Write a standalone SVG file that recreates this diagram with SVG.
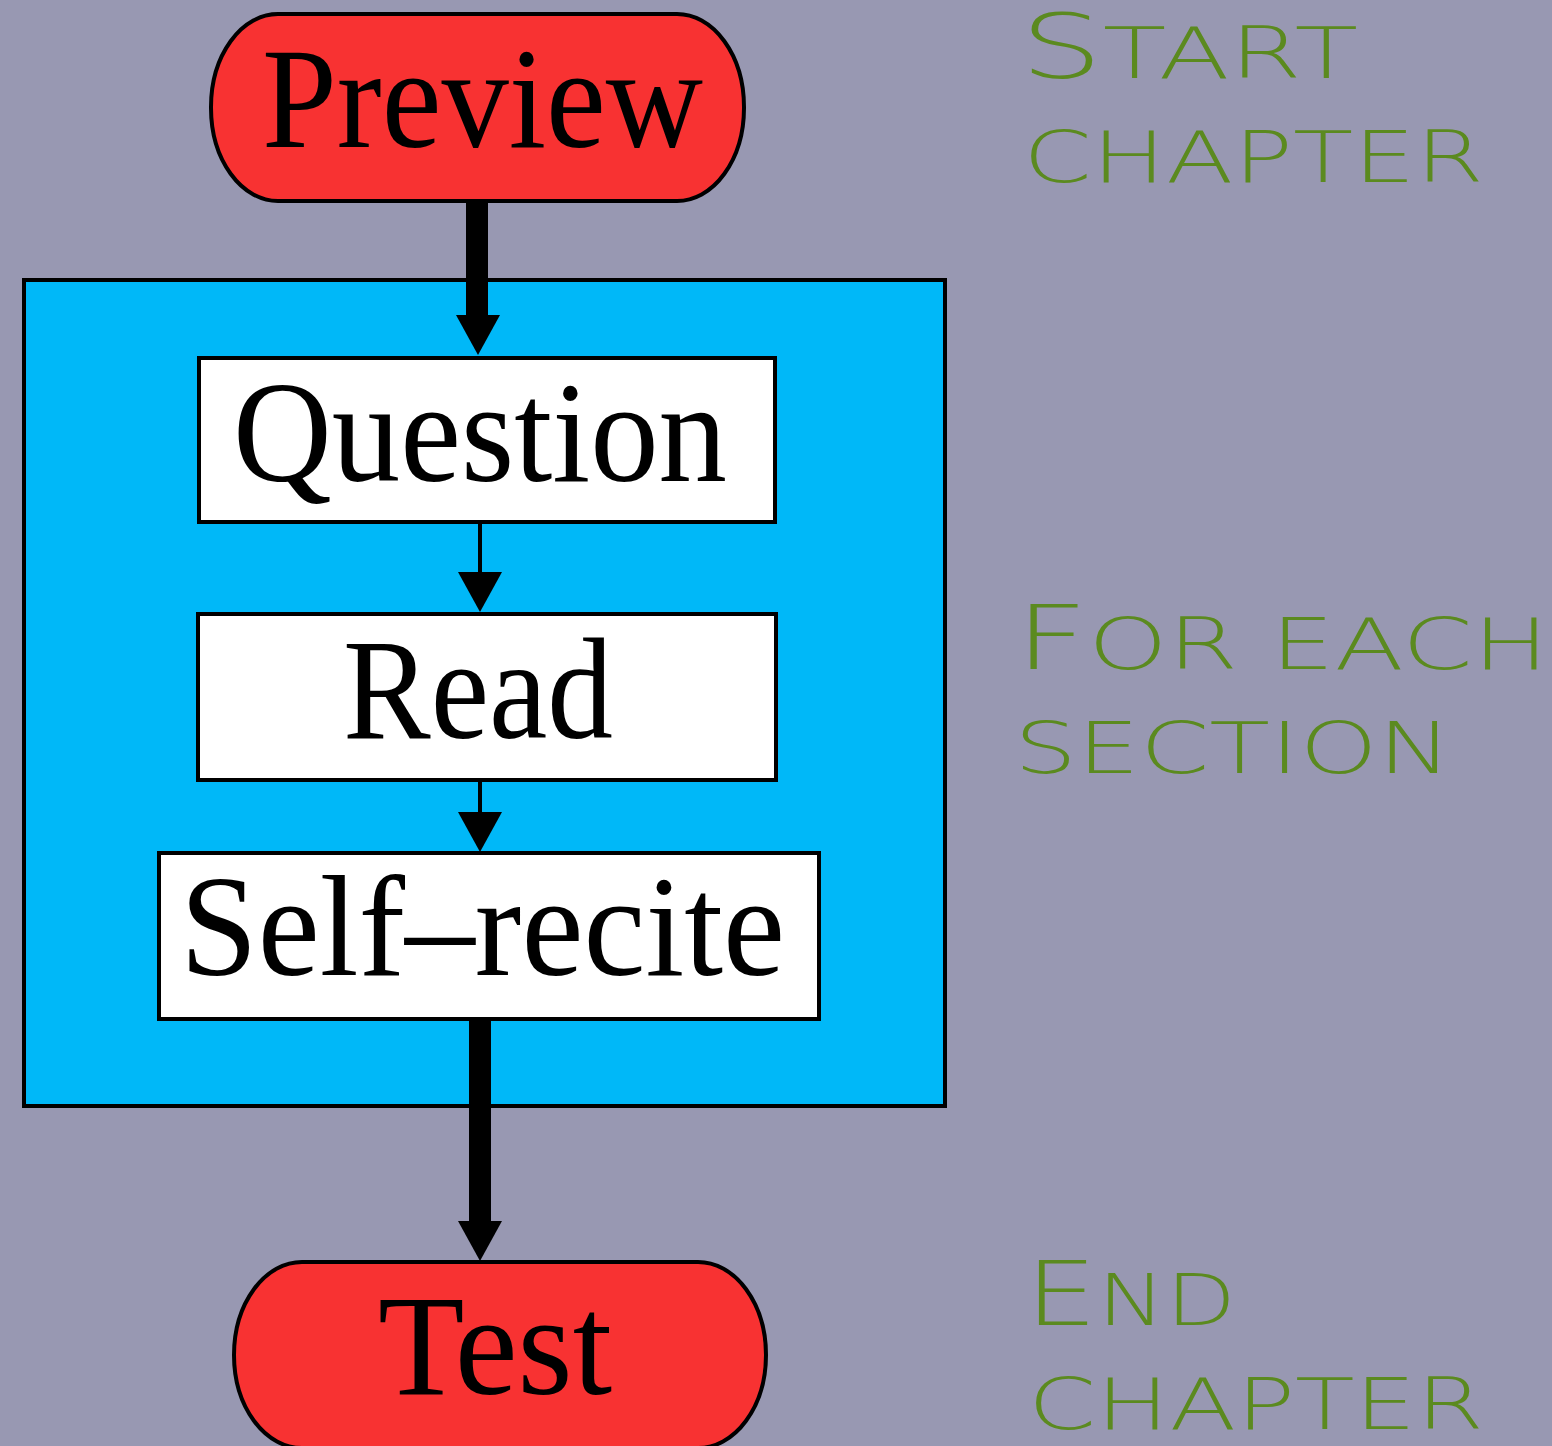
<svg xmlns="http://www.w3.org/2000/svg" xmlns:xlink="http://www.w3.org/1999/xlink" width="1552" height="1446" viewBox="0 0 1552 1446">
  <style>
    .bg { fill: #9898b2; }
    .pill { fill: #f83232; stroke: #000; stroke-width: 4; }
    .step { fill: #fff; stroke: #000; stroke-width: 4; }
    .loop { fill: #00b8f8; stroke: #000; stroke-width: 4; }
    .label { font-family: "Liberation Serif", "Times New Roman", serif; font-size: 143px; fill: #000; }
    .note { font-family: "DejaVu Sans", "Liberation Sans", sans-serif; font-weight: 200; fill: #5b8a1f; }
    .big { font-size: 89px; }
    .small { font-size: 71px; }
    .thick { stroke: #000; stroke-width: 22; fill: none; }
    .thin { stroke: #000; stroke-width: 4; fill: none; }
  </style>
  <defs>
    <!-- arrowhead with its tip at the origin, pointing down -->
    <path id="head" d="M-22,-40 L22,-40 L0,0 Z" fill="#000"/>
  </defs>

  <rect class="bg" x="0" y="0" width="1552" height="1446"/>

  <!-- repeated-section frame -->
  <g id="section-loop">
    <rect class="loop" x="24" y="280" width="921" height="826"/>
  </g>

  <g id="connectors">
    <g id="preview-to-question">
      <line class="thick" x1="477" y1="201" x2="477" y2="322"/>
      <use xlink:href="#head" x="478" y="355"/>
    </g>
    <g id="question-to-read">
      <line class="thin" x1="480" y1="524" x2="480" y2="590"/>
      <use xlink:href="#head" x="480" y="612"/>
    </g>
    <g id="read-to-selfrecite">
      <line class="thin" x1="480" y1="782" x2="480" y2="830"/>
      <use xlink:href="#head" x="480" y="852"/>
    </g>
    <g id="selfrecite-to-test">
      <line class="thick" x1="480" y1="1021" x2="480" y2="1232"/>
      <use xlink:href="#head" x="480" y="1261"/>
    </g>
  </g>

  <g id="preview">
    <rect class="pill" x="211" y="14" width="533" height="187" rx="67" ry="93"/>
    <text class="label" x="262" y="147" textLength="441" lengthAdjust="spacingAndGlyphs">Preview</text>
  </g>

  <g id="question">
    <rect class="step" x="199" y="358" width="576" height="164"/>
    <text class="label" x="233" y="481" textLength="494" lengthAdjust="spacingAndGlyphs">Question</text>
  </g>

  <g id="read">
    <rect class="step" x="198" y="614" width="578" height="166"/>
    <text class="label" x="343" y="738" textLength="270" lengthAdjust="spacingAndGlyphs">Read</text>
  </g>

  <g id="self-recite">
    <rect class="step" x="159" y="853" width="660" height="166"/>
    <text class="label" x="180" y="975" textLength="605" lengthAdjust="spacingAndGlyphs">Self–recite</text>
  </g>

  <g id="test">
    <rect class="pill" x="234" y="1262" width="532" height="186" rx="68" ry="93"/>
    <text class="label" x="378" y="1394" textLength="234" lengthAdjust="spacingAndGlyphs">Test</text>
  </g>

  <!-- side notes -->
  <g id="note-start">
    <text class="note" x="1020" y="78" textLength="338" lengthAdjust="spacingAndGlyphs"><tspan class="big">S</tspan><tspan class="small">TART</tspan></text>
    <text class="note small" x="1023" y="182" textLength="461" lengthAdjust="spacingAndGlyphs">CHAPTER</text>
  </g>
  <g id="note-section">
    <text class="note" x="1015" y="669" textLength="534" lengthAdjust="spacingAndGlyphs"><tspan class="big">F</tspan><tspan class="small">OR EACH</tspan></text>
    <text class="note small" x="1014" y="773" textLength="438" lengthAdjust="spacingAndGlyphs">SECTION</text>
  </g>
  <g id="note-end">
    <text class="note" x="1025" y="1325" textLength="211" lengthAdjust="spacingAndGlyphs"><tspan class="big">E</tspan><tspan class="small">ND</tspan></text>
    <text class="note small" x="1028" y="1429" textLength="456" lengthAdjust="spacingAndGlyphs">CHAPTER</text>
  </g>
</svg>
